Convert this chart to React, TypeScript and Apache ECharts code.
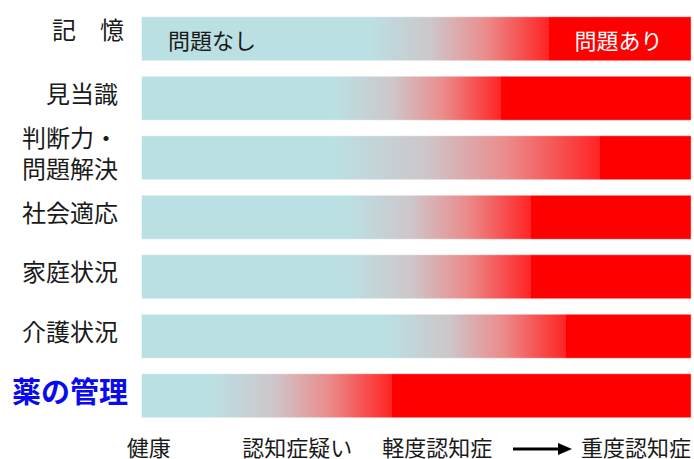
import React, { useEffect, useRef } from "react";
import * as echarts from "echarts";

const categories = ["記　憶", "見当識", "判断力・\n問題解決", "社会適応", "家庭状況", "介護状況", "薬の管理"];
// position (0-100 scale) where the transition from "no problem" begins
const gradientStart = [41.4, 35.1, 34.7, 37.3, 37.3, 44.5, 12.5];
// position (0-100 scale) where the solid "problem" zone begins
const redStart = [74.1, 65.5, 83.4, 70.9, 70.9, 77.2, 45.6];
const scaleMax = 100;
const stageLabels = ["健康", "認知症疑い", "軽度認知症", "重度認知症"];
const stageValues = [1.4, 28.4, 53.8, 89.9];
const insideLabels = ["問題なし", "問題あり"];

const FONT = "'Noto Sans CJK JP', 'Noto Sans', sans-serif";
const BLUE = "#bbe0e3";
const RED = "#ff0000";

function rowGradient(i: number) {
  const gs = gradientStart[i] / scaleMax;
  const rs = redStart[i] / scaleMax;
  const span = rs - gs;
  return new echarts.graphic.LinearGradient(0, 0, 1, 0, [
    { offset: 0, color: BLUE },
    { offset: gs, color: BLUE },
    { offset: gs + span * 0.35, color: "#cdc6ca" },
    { offset: gs + span * 0.65, color: "#eb8c8c" },
    { offset: rs, color: "#ff2424" },
    { offset: rs, color: RED },
    { offset: 1, color: RED },
  ]);
}

export default function App() {
  const ref = useRef<HTMLDivElement>(null);
  useEffect(() => {
    if (!ref.current) return;
    const chart = echarts.init(ref.current, null, { renderer: "svg" });
    chart.setOption({
      animation: false,
      textStyle: { fontFamily: FONT },
      grid: { left: 141, right: 0, top: 9, height: 416.5, containLabel: false },
      xAxis: {
        type: "value",
        min: 0,
        max: scaleMax,
        axisLine: { show: false },
        axisTick: { show: false },
        splitLine: { show: false },
        axisLabel: {
          customValues: stageValues,
          margin: 9,
          fontSize: 22,
          lineHeight: 22,
          color: "#1a1a1a",
          fontFamily: FONT,
          formatter: (v: number) => {
            const idx = stageValues.indexOf(v);
            return idx >= 0 ? stageLabels[idx] : "";
          },
        },
      },
      yAxis: {
        type: "category",
        inverse: true,
        data: categories,
        axisLine: { show: false },
        axisTick: { show: false },
        axisLabel: {
          margin: 13,
          padding: [0, 0, 12, 0],
          fontFamily: FONT,
          formatter: (value: string) => {
            const i = categories.indexOf(value);
            const key = i === 6 ? "k" : i === 0 ? "u" : "t";
            const pad = i === 0 ? "s3" : i === 6 ? "s0" : "s10";
            return value
              .split("\n")
              .map((ln) => `{${key}|${ln}}{${pad}|}`)
              .join("\n");
          },
          rich: {
            t: { fontSize: 24, color: "#1a1a1a", lineHeight: 31, fontFamily: FONT },
            u: { fontSize: 24, color: "#1a1a1a", lineHeight: 31, padding: [0, 0, 8, 0], fontFamily: FONT },
            k: { fontSize: 29, color: "#0a0aee", fontWeight: "bold", lineHeight: 32, fontFamily: FONT },
            s0: { width: 0 },
            s3: { width: 4 },
            s10: { width: 10 },
          },
        },
      },
      series: [
        {
          type: "bar",
          barWidth: 45,
          barGap: "-100%",
          data: categories.map((_, i) => ({
            value: scaleMax,
            itemStyle: {
              color: rowGradient(i),
              borderColor: "rgba(255,255,255,0.45)",
              borderWidth: 1,
            },
            label:
              i === 0
                ? {
                    show: true,
                    position: "insideLeft",
                    distance: 27,
                    formatter: insideLabels[0],
                    fontSize: 22,
                    color: "#1a1a1a",
                    fontFamily: FONT,
                  }
                : { show: false },
          })),
        },
        {
          type: "bar",
          barWidth: 45,
          barGap: "-100%",
          silent: true,
          itemStyle: { color: "rgba(0,0,0,0)" },
          data: categories.map((_, i) => ({
            value: scaleMax,
            label:
              i === 0
                ? {
                    show: true,
                    position: "insideRight",
                    distance: 29,
                    formatter: insideLabels[1],
                    fontSize: 22,
                    color: "#ffffff",
                    fontFamily: FONT,
                  }
                : { show: false },
          })),
        },
      ],
      graphic: [
        {
          type: "line",
          shape: { x1: 513, y1: 449, x2: 561, y2: 449 },
          style: { stroke: "#000", lineWidth: 3 },
        },
        {
          type: "polygon",
          shape: { points: [[558, 443], [572, 449], [558, 455]] },
          style: { fill: "#000" },
        },
      ],
    });
    return () => chart.dispose();
  }, []);
  return (
    <div
      ref={ref}
      style={{ position: "fixed", left: 0, top: 0, width: 694, height: 459, background: "#fff" }}
    />
  );
}
